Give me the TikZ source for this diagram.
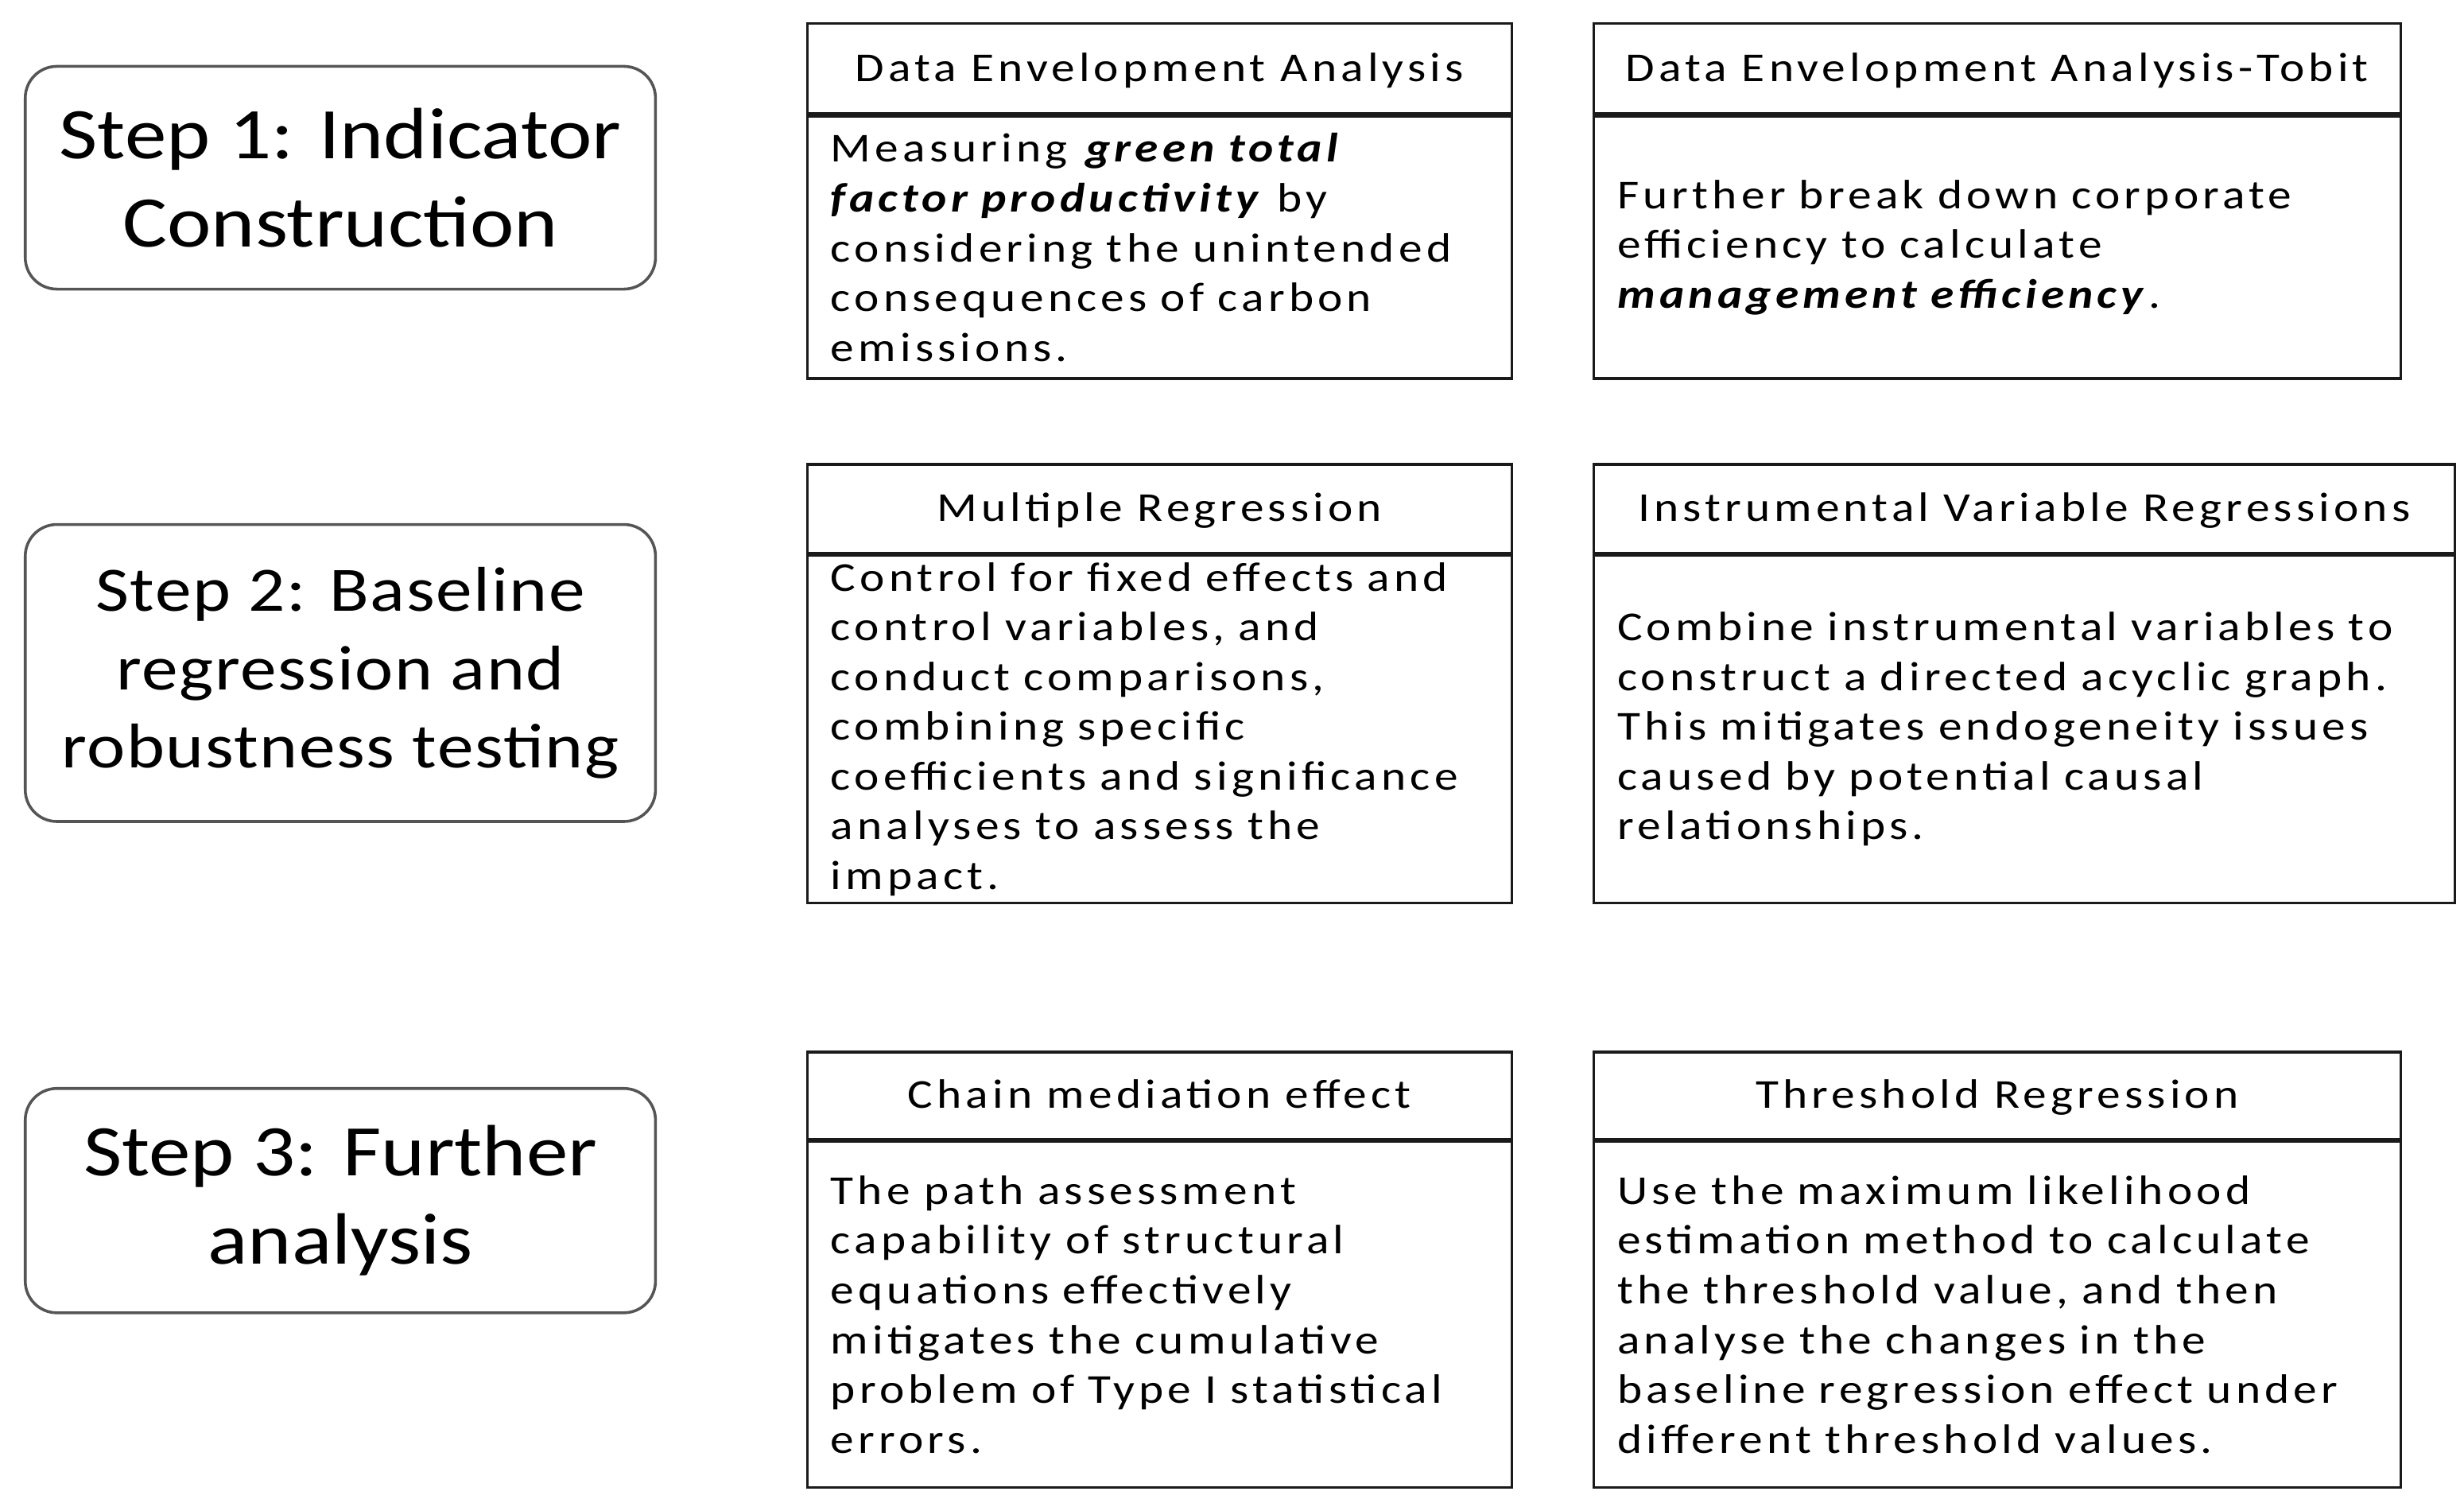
\documentclass[tikz,border=0pt]{standalone}
\usepackage{fontspec}
\setmainfont[FakeStretch=1.15]{Carlito}
\newfontfamily\bodyfont[FakeStretch=1.15,LetterSpace=10]{Carlito}
\newfontfamily\stepfont[FakeStretch=1.15]{Carlito}
\newfontfamily\stepwide[FakeStretch=1.15,LetterSpace=2]{Carlito}
\definecolor{boxline}{HTML}{1A1A1A}
\definecolor{stepgrey}{HTML}{555555}
\newcommand{\bi}[1]{\textbf{\textit{#1}}}
\tikzset{
  stepbox/.style={draw=stepgrey, line width=0.9pt, rounded corners=10pt,
    minimum width=199.5pt, inner sep=0pt, align=center},
  headbox/.style={draw=boxline, line width=0.8pt, inner sep=0pt, align=center,
    text height=9.5pt, text depth=1.5pt,
    font=\bodyfont\fontsize{13}{15.75}\selectfont},
  bodybox/.style={draw=boxline, line width=0.8pt, inner xsep=7.5pt, inner ysep=0pt,
    align=left, font=\bodyfont\fontsize{13}{15.75}\selectfont, anchor=north},
}
\begin{document}
\begin{tikzpicture}[x=0.5pt,y=-0.5pt]
\path[use as bounding box] (0,0) rectangle (1560,948.4);

% step boxes
\node[stepbox, minimum height=70.5pt, font=\stepfont\fontsize{23}{28}\selectfont]
  (s1) at (215.5,112.5) {Step 1: Indicator\\Construction};
\node[stepbox, minimum height=94pt, font=\stepwide\fontsize{20}{24.75}\selectfont]
  (s2) at (215.5,426) {Step 2: Baseline\\regression and\\robustness testing};
\node[stepbox, minimum height=71pt, font=\stepfont\fontsize{23}{28}\selectfont]
  (s3) at (215.5,760) {Step 3: Further\\analysis};

% row 1
\node[headbox, minimum width=223pt, minimum height=28.5pt] (h11) at (734,43.5)
  {Data Envelopment Analysis};
\node[bodybox, text width=208pt, minimum height=83pt] (b11) at (h11.south)
  {\mbox{Measuring \bi{green total}}\\
   \mbox{\bi{factor productivity} by}\\
   \mbox{considering the unintended}\\
   \mbox{consequences of carbon}\\
   \mbox{emissions.}};
\node[headbox, minimum width=255.5pt, minimum height=28.5pt] (h12) at (1264.5,43.5)
  {Data Envelopment Analysis-Tobit};
\node[bodybox, text width=240.5pt, minimum height=83pt] (b12) at (h12.south)
  {\mbox{Further break down corporate}\\
   \mbox{efficiency to calculate}\\
   \mbox{\bi{management efficiency}.}};

% row 2
\node[headbox, minimum width=223pt, minimum height=28pt] (h21) at (734,322)
  {Multiple Regression};
\node[bodybox, text width=208pt, minimum height=110pt] (b21) at (h21.south)
  {\mbox{Control for fixed effects and}\\
   \mbox{control variables, and}\\
   \mbox{conduct comparisons,}\\
   \mbox{combining specific}\\
   \mbox{coefficients and significance}\\
   \mbox{analyses to assess the}\\
   \mbox{impact.}};
\node[headbox, minimum width=272.5pt, minimum height=28pt] (h22) at (1281.5,322)
  {Instrumental Variable Regressions};
\node[bodybox, text width=257.5pt, minimum height=110pt] (b22) at (h22.south)
  {\mbox{Combine instrumental variables to}\\
   \mbox{construct a directed acyclic graph.}\\
   \mbox{This mitigates endogeneity issues}\\
   \mbox{caused by potential causal}\\
   \mbox{relationships.}};

% row 3
\node[headbox, minimum width=223pt, minimum height=27.5pt] (h31) at (734,693.5)
  {Chain mediation effect};
\node[bodybox, text width=208pt, minimum height=109.5pt] (b31) at (h31.south)
  {\mbox{The path assessment}\\
   \mbox{capability of structural}\\
   \mbox{equations effectively}\\
   \mbox{mitigates the cumulative}\\
   \mbox{problem of Type I statistical}\\
   \mbox{errors.}};
\node[headbox, minimum width=255.5pt, minimum height=27.5pt] (h32) at (1264.5,693.5)
  {Threshold Regression};
\node[bodybox, text width=240.5pt, minimum height=109.5pt] (b32) at (h32.south)
  {\mbox{Use the maximum likelihood}\\
   \mbox{estimation method to calculate}\\
   \mbox{the threshold value, and then}\\
   \mbox{analyse the changes in the}\\
   \mbox{baseline regression effect under}\\
   \mbox{different threshold values.}};
\end{tikzpicture}
\end{document}
